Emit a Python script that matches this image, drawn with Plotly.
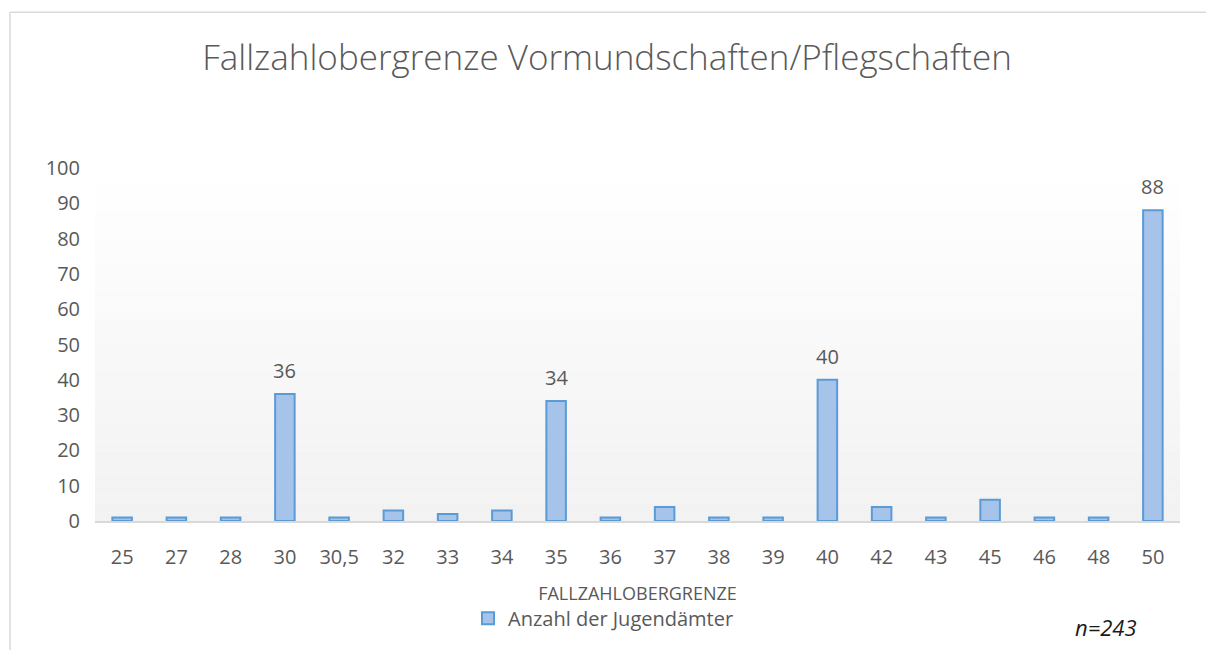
import plotly.graph_objects as go

categories = ["25", "27", "28", "30", "30,5", "32", "33", "34", "35", "36",
              "37", "38", "39", "40", "42", "43", "45", "46", "48", "50"]
values = [1, 1, 1, 36, 1, 3, 2, 3, 34, 1, 4, 1, 1, 40, 4, 1, 6, 1, 1, 88]
labelled = {36, 34, 40, 88}
y_ticks = list(range(0, 101, 10))

W, H = 1206, 650
L, R, T, B = 95, 26, 168, 126
pw, ph = W - L - R, H - T - B


def px(x):
    return (x - L) / pw


def py(y):
    return (H - B - y) / ph


FONT = "Open Sans"
GREY = "#595959"

fig = go.Figure()
fig.add_trace(go.Bar(
    x=categories, y=values, name="Anzahl der Jugendämter",
    marker=dict(color="#a6c3e9", line=dict(color="#5b9bd5", width=2)),
    width=0.36,
))

annotations = []
for i, v in enumerate(values):
    if v in labelled:
        annotations.append(dict(x=i, y=v, xref="x", yref="y", text=str(v),
                                showarrow=False, yanchor="bottom", yshift=8,
                                font=dict(size=20, color=GREY, family=FONT)))
annotations.append(dict(text="<i>n=243</i>", xref="paper", yref="paper",
                        x=px(1106), y=py(631), xanchor="center", yanchor="middle",
                        showarrow=False,
                        font=dict(size=22, color="#1a1a1a", family=FONT)))

shapes = []
# gradient plot background (white at top -> light grey at bottom)
n = 40
for k in range(n):
    t = k / (n - 1)
    c = int(round(255 - (255 - 242) * t))
    shapes.append(dict(type="rect", xref="x domain", yref="y domain",
                       x0=0, x1=1, y0=1 - (k + 1) / n, y1=1 - k / n,
                       fillcolor=f"rgb({c},{c},{c})", line=dict(width=0),
                       layer="below"))
# chart frame (top and left edges visible in the crop)
shapes.append(dict(type="line", xref="paper", yref="paper",
                   x0=px(10), x1=px(1210), y0=py(11), y1=py(11),
                   line=dict(color="#d9d9d9", width=1.5), layer="below"))
shapes.append(dict(type="line", xref="paper", yref="paper",
                   x0=px(10), x1=px(10), y0=py(11), y1=py(655),
                   line=dict(color="#d9d9d9", width=1.5), layer="below"))

fig.update_layout(
    width=W, height=H,
    margin=dict(l=L, r=R, t=T, b=B),
    paper_bgcolor="white", plot_bgcolor="white",
    font=dict(family=FONT, color=GREY, size=20),
    title=dict(text="Fallzahlobergrenze Vormundschaften/Pflegschaften",
               x=px(607), xanchor="center", xref="paper",
               y=1 - 58 / H, yanchor="middle",
               font=dict(size=35, color=GREY, family=FONT, weight=300)),
    xaxis=dict(type="category", range=[-0.5, len(categories) - 0.5],
               showgrid=False, showline=True,
               linecolor="#d9d9d9", linewidth=2, ticks="",
               tickfont=dict(size=20, color=GREY), ticklabelstandoff=17,
               title=dict(text="FALLZAHLOBERGRENZE", standoff=18,
                          font=dict(size=18, color=GREY))),
    yaxis=dict(range=[0, 100], tickvals=y_ticks, showgrid=False,
               zeroline=False, showline=False, ticks="",
               tickfont=dict(size=20, color=GREY), ticklabelstandoff=14),
    showlegend=True,
    legend=dict(orientation="h", x=px(468), xanchor="left",
                y=py(622), yanchor="middle", font=dict(size=20, color=GREY),
                bgcolor="rgba(0,0,0,0)", itemwidth=30),
    shapes=shapes,
    annotations=annotations,
)

fig.write_html(
    "out.html", config={"displayModeBar": False},
    post_script=("document.body.style.margin='0';"
                 "document.body.style.overflow='hidden';"
                 "document.documentElement.style.overflow='hidden';"))
